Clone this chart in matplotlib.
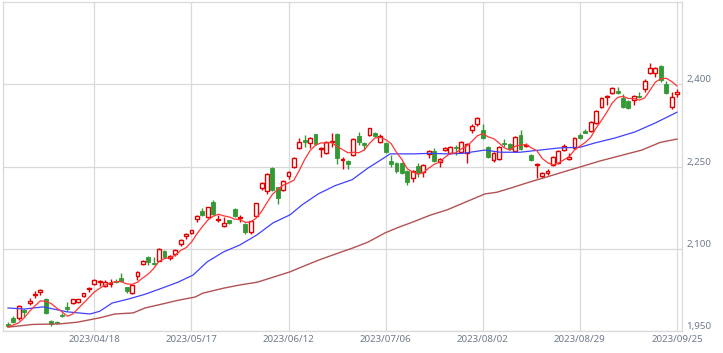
import matplotlib
matplotlib.use("Agg")
import matplotlib.pyplot as plt
import numpy as np

# ---- data ----
opens = [1963,1974,1974,1988,2001,2015,2021,2008,1968,1966,1980,1994,2001,2003,2014,2026,2036,2039,2032,2035,
         2041,2047,2030,2019,2050,2072,2085,2074,2078,2096,2084,2090,2109,2124,2129,2154,2169,2158,2185,2153,
         2141,2152,2172,2156,2145,2130,2160,2211,2205,2247,2212,2207,2233,2249,2284,2298,2293,2309,2282,2274,
         2295,2309,2261,2260,2271,2305,2292,2307,2311,2294,2293,2260,2256,2256,2242,2229,2251,2240,2273,2278,
         2258,2281,2274,2286,2276,2274,2316,2327,2316,2285,2262,2263,2293,2291,2278,2307,2287,2271,2253,2232,
         2239,2253,2256,2280,2263,2284,2307,2314,2315,2329,2358,2376,2384,2387,2375,2369,2371,2379,2391,2420,
         2420,2433,2400,2358,2383]
highs = [1966,1977,1997,1991,2010,2023,2026,2010,1970,1969,1983,2003,2009,2009,2020,2031,2044,2043,2043,2045,
         2044,2056,2031,2036,2059,2079,2086,2085,2101,2097,2089,2099,2117,2128,2135,2161,2174,2177,2189,2162,
         2158,2153,2175,2162,2147,2151,2184,2221,2238,2249,2213,2225,2242,2267,2302,2307,2304,2310,2286,2296,
         2311,2311,2267,2262,2302,2313,2294,2321,2313,2309,2295,2271,2258,2258,2244,2244,2256,2255,2280,2284,
         2265,2285,2287,2289,2296,2293,2327,2340,2327,2287,2276,2287,2300,2293,2306,2316,2292,2273,2256,2240,
         2245,2269,2280,2291,2274,2304,2311,2318,2333,2353,2377,2380,2395,2395,2382,2371,2380,2386,2409,2438,
         2431,2435,2406,2386,2391]
lows = [1957,1965,1970,1976,1997,2010,2016,1981,1960,1962,1975,1987,1999,2001,2012,2021,2034,2032,2031,2030,
        2037,2039,2019,2017,2043,2070,2070,2070,2077,2084,2080,2087,2105,2118,2127,2149,2159,2156,2161,2149,
        2139,2145,2158,2149,2127,2127,2159,2207,2200,2205,2181,2205,2227,2247,2282,2285,2284,2289,2267,2272,
        2285,2254,2245,2245,2269,2289,2280,2305,2303,2292,2274,2249,2238,2236,2216,2222,2231,2230,2265,2258,
        2249,2278,2272,2271,2274,2256,2311,2324,2300,2265,2258,2262,2285,2280,2276,2280,2285,2260,2229,2229,
        2234,2251,2254,2278,2261,2282,2300,2311,2313,2327,2356,2362,2382,2382,2356,2354,2362,2375,2386,2418,
        2413,2405,2382,2355,2376]
closes = [1960,1967,1996,1985,2005,2018,2025,1983,1963,1964,1978,1990,2008,2008,2019,2029,2043,2041,2039,2038,
          2039,2041,2023,2034,2058,2078,2076,2072,2099,2085,2086,2098,2116,2127,2134,2160,2161,2176,2163,2155,
          2147,2147,2160,2158,2130,2150,2183,2220,2236,2207,2192,2223,2240,2265,2294,2294,2302,2291,2284,2294,
          2297,2265,2263,2254,2300,2294,2290,2320,2305,2305,2276,2254,2242,2238,2222,2242,2238,2253,2278,2260,
          2263,2283,2285,2284,2294,2291,2324,2338,2302,2267,2274,2285,2291,2282,2304,2282,2290,2262,2255,2238,
          2241,2267,2278,2287,2267,2302,2302,2312,2331,2351,2375,2378,2393,2384,2358,2356,2378,2377,2406,2429,
          2429,2407,2384,2377,2386]

ma_short = [1958,1961,1965,1974,1986,1996,2005,2004,2000,1992,1985,1977,1981,1991,2001,2011,2021,2028,2034,2038,
            2040,2040,2036,2035,2039,2047,2054,2064,2077,2082,2084,2088,2097,2102,2112,2127,2140,2152,2159,2163,
            2160,2158,2154,2153,2148,2149,2156,2168,2184,2199,2208,2216,2220,2225,2243,2263,2279,2289,2293,2293,
            2294,2286,2281,2275,2276,2275,2280,2292,2302,2303,2299,2292,2276,2263,2246,2240,2236,2239,2247,2254,
            2258,2267,2274,2275,2282,2287,2296,2306,2310,2304,2301,2293,2284,2280,2287,2289,2290,2284,2279,2265,
            2257,2253,2256,2262,2268,2280,2287,2294,2303,2320,2334,2349,2366,2376,2378,2374,2374,2371,2375,2389,
            2404,2410,2411,2405,2397]

ma_mid_idx = [0,3,6.5,10.9,15.2,17,19.3,22.2,25.4,28.5,31.5,34.3,36.9,39.9,43,46.1,49.1,52.3,54.5,57.5,
              60.6,63.8,66.7,69.9,70.8,75.1,78.2,81.4,84.3,88.4,91.2,94.9,98.6,102.3,106,108.8,112.5,116.2,119.9,124]
ma_mid = [1992,1990,1994,1985,1981,1986,2001,2008,2017,2028,2039,2052,2076,2094,2107,2125,2147,2162,2180,2200,
          2215,2226,2247,2267,2273,2273,2274,2273,2274,2280,2276,2276,2280,2284,2285,2293,2302,2313,2329,2349]

ma_long_idx = [0,4.6,9.6,12.8,17,19.8,23.2,25.4,28.5,31.5,34.7,36.1,39.9,43,46.2,49.1,52.3,54.5,57.5,60.6,
               63.8,66.7,69.9,72.1,75.1,78.2,81.4,84.3,88.4,90.6,93.6,96.8,99.9,102.9,106,109.7,114,117.5,120.9,124]
ma_long = [1957,1962,1963,1966,1974,1981,1983,1992,1999,2006,2012,2019,2028,2034,2039,2048,2058,2067,2079,2090,
           2101,2112,2129,2138,2149,2161,2171,2183,2200,2203,2212,2222,2231,2240,2249,2260,2271,2280,2294,2300]

tick_pos = [16, 34, 52, 70, 88, 106, 124]
tick_labels = ["2023/04/18", "2023/05/17", "2023/06/12", "2023/07/06",
               "2023/08/02", "2023/08/29", "2023/09/25"]
y_ticks = [1950, 2100, 2250, 2400]
y_labels = ["1,950", "2,100", "2,250", "2,400"]

# ---- styles ----
UP = "#e00000"
DOWN = "#339933"
GRID = "#d9d9d9"
TXT = "#6f7a8c"

plt.rcParams['font.family'] = ['Noto Sans', 'DejaVu Sans']

fig = plt.figure(figsize=(7.23, 3.53), dpi=100)
ax = fig.add_axes([3/723, 1-331/353, 679/723, 329/353])

o = np.array(opens, float); h = np.array(highs, float)
l = np.array(lows, float); c = np.array(closes, float)
x = np.arange(len(c))
up = c >= o

# wicks
ax.vlines(x[up], l[up], h[up], color=UP, linewidth=1.0, zorder=2)
ax.vlines(x[~up], l[~up], h[~up], color=DOWN, linewidth=1.0, zorder=2)
# bodies
bw = 0.72
ax.bar(x[up], np.maximum(c[up]-o[up], 1.5), bottom=o[up], width=bw,
       facecolor="white", edgecolor=UP, linewidth=1.0, zorder=3)
ax.bar(x[~up], np.maximum(o[~up]-c[~up], 1.5), bottom=c[~up], width=bw,
       facecolor=DOWN, edgecolor=DOWN, linewidth=0.6, zorder=3)

# moving averages
ax.plot(ma_long_idx, ma_long, color="#b25252", linewidth=1.0, zorder=4)
ax.plot(ma_mid_idx, ma_mid, color="#4040ff", linewidth=0.9, zorder=4)
ax.plot(x, ma_short, color="#ff3535", linewidth=0.9, zorder=5)

ax.set_xlim(-0.93, len(c) - 1 + 0.93)
ax.set_ylim(1950, 2550)

ax.set_xticks(tick_pos)
ax.set_xticklabels(tick_labels)
ax.set_yticks(y_ticks)
ax.set_yticklabels(y_labels)
ax.yaxis.tick_right()
ax.tick_params(axis='both', length=0, labelsize=7, labelcolor=TXT)
ax.tick_params(axis='x', pad=3)
ax.tick_params(axis='y', pad=3)
plt.setp(ax.get_yticklabels(), va='bottom')

ax.grid(True, color=GRID, linewidth=0.9, zorder=0)
ax.set_axisbelow(True)
for s in ax.spines.values():
    s.set_color(GRID)
    s.set_linewidth(0.9)

fig.savefig("out.png", dpi=100)
